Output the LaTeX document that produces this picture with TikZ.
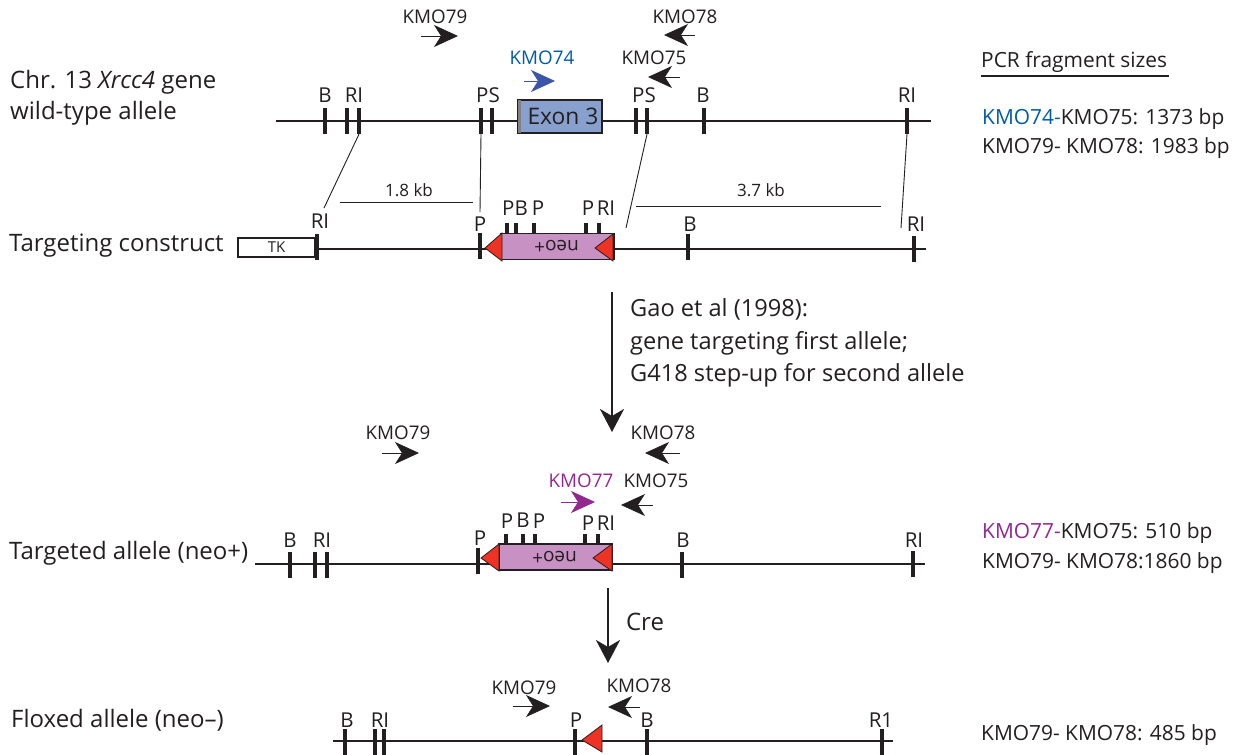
\documentclass[tikz,border=0pt]{standalone}
\usepackage{fontspec}
\setmainfont{Open Sans}
\usetikzlibrary{arrows.meta}
\definecolor{ink}{RGB}{35,31,32}
\definecolor{exonblue}{RGB}{135,160,205}
\definecolor{neopink}{RGB}{200,145,195}
\definecolor{loxred}{RGB}{238,50,36}
\definecolor{textblue}{RGB}{0,90,170}
\definecolor{arrowblue}{RGB}{60,85,170}
\definecolor{purp}{RGB}{146,39,143}
\tikzset{
  big/.style={font=\fontsize{24}{28}\selectfont, text=ink, inner sep=0pt},
  gao/.style={font=\fontsize{23.6}{28}\selectfont, text=ink, inner sep=0pt},
  mid/.style={font=\fontsize{20.9}{25}\selectfont, text=ink, inner sep=0pt},
  site/.style={font=\fontsize{20.5}{22}\selectfont, text=ink, inner sep=0pt},
  dist/.style={font=\fontsize{17}{18}\selectfont, text=ink, inner sep=0pt},
  primer/.style={font=\fontsize{18.8}{20}\selectfont, text=ink, inner sep=0pt},
  tick/.style={draw=none, fill=ink, inner sep=0pt, minimum width=3.4pt, minimum height=26pt},
  smalltick/.style={draw=none, fill=ink, inner sep=0pt, minimum width=3.4pt, minimum height=10pt},
  backbone/.style={draw=ink, line width=1.9pt},
  guide/.style={draw=ink, line width=0.9pt},
  primerarrow/.style={draw=ink, line width=0.8pt, -{Stealth[length=24pt, width=22pt, inset=7pt]}},
  bigarrow/.style={draw=ink, line width=2.5pt, -{Stealth[length=23pt, width=24pt, inset=7pt]}},
  lox/.style={fill=loxred, draw=ink, line width=0.8pt},
  neobox/.style={draw=ink, line width=1.6pt, fill=neopink, inner sep=0pt, minimum width=113pt, minimum height=26pt,
    font=\fontsize{19}{22}\selectfont, text=ink},
}
\begin{document}
\begin{tikzpicture}[x=1pt, y=-1pt]
\useasboundingbox (0,0) rectangle (1235,755);

% wild-type allele
\coordinate (wta) at (276,121);
\coordinate (wtb) at (931,121);
\draw[backbone] (wta) -- (wtb);
\foreach \n/\x in {wt1/325, wt2/347, wt3/359, wt4/481, wt5/492, wt6/636, wt7/647, wt8/704, wt9/907}
  \node[tick] (\n) at (\x,121) {};
\node[draw=ink, line width=1.6pt, fill=exonblue, inner sep=0pt, minimum width=84pt, minimum height=33pt,
  font=\fontsize{22.8}{26}\selectfont, text=ink] (exon) at (560,116.5) {\hspace*{6pt}Exon 3};
\fill[gray] ([xshift=1pt,yshift=-1pt]exon.north west) rectangle ([xshift=4pt,yshift=1pt]exon.south west);
\node[site] (lb1) at (325,95) {B};
\node[site] (lb2) at (354,95) {RI};
\node[site] (lb3) at (488,95) {PS};
\node[site] (lb4) at (644,95) {PS};
\node[site] (lb5) at (703,95) {B};
\node[site] (lb6) at (907,95) {RI};

% targeting construct
\node[draw=ink, line width=1.2pt, fill=white, inner sep=0pt, minimum width=77pt, minimum height=19pt,
  font=\fontsize{15}{17}\selectfont, text=ink] (tk) at (276.5,247.5) {TK};
\coordinate (tca) at (317,249);
\coordinate (tcb) at (926,249);
\draw[backbone] (tca) -- (tcb);
\foreach \n/\x/\y in {tc1/317/247, tc2/480/246, tc3/688/247, tc4/914/249}
  \node[tick] (\n) at (\x,\y) {};
\node[neobox] (neoa) at (557.5,246.5) {\hspace*{-2pt}\rotatebox{180}{neo+}};
\foreach \n/\x in {tc5/507, tc6/516, tc7/534, tc8/586, tc9/599}
  \node[smalltick] (\n) at (\x,228) {};
\path[lox] (502,233) -- (485,248) -- (502,261) -- cycle;
\path[lox] (613,234) -- (595,248) -- (613,261) -- cycle;
\node[site] (lc1) at (320,221) {RI};
\node[site] (lc2) at (480,224) {P};
\node[site] (lc3) at (515,208) {PB};
\node[site] (lc4) at (538,208) {P};
\node[site] (lc5) at (588,208) {P};
\node[site] (lc6) at (606,208) {RI};
\node[site] (lc7) at (690,224) {B};
\node[site] (lc8) at (916,224) {RI};

% homology lines
\coordinate (ha) at (324,208);
\coordinate (hb) at (480,212);
\coordinate (hc) at (626,228);
\coordinate (hd) at (901,228);
\draw[guide] (wt3.south) -- (ha);
\draw[guide] (wt4.south) -- (hb);
\draw[guide] (wt7.south) -- (hc);
\draw[guide] (wt9.south) -- (hd);
\coordinate (da) at (340,202);
\coordinate (db) at (473,202);
\coordinate (dc) at (636,206);
\coordinate (dd) at (881,206);
\draw[guide] (da) -- (db);
\draw[guide] (dc) -- (dd);
\node[dist] (d18) at (409,190) {1.8 kb};
\node[dist] (d37) at (761,190) {3.7 kb};

% targeting step
\coordinate (sa) at (612,292);
\coordinate (sb) at (612,432);
\draw[bigarrow] (sa) -- (sb);
\node[gao, anchor=west] (gao1) at (630,309) {Gao et al (1998):};
\node[gao, anchor=west] (gao2) at (630,343) {gene targeting first allele;};
\node[gao, anchor=west] (gao3) at (630,375) {G418 step-up for second allele};

% targeted allele
\coordinate (taa) at (255,564);
\coordinate (tab) at (925,564);
\draw[backbone] (taa) -- (tab);
\foreach \n/\x/\y in {ta1/290/565, ta2/315/565, ta3/327/565, ta4/478/561, ta5/682/565, ta6/913/564}
  \node[tick] (\n) at (\x,\y) {};
\node[neobox] (neob) at (555.5,557) {\hspace*{-2pt}\rotatebox{180}{neo+}};
\foreach \n/\x in {ta7/506, ta8/523, ta9/535, ta10/585, ta11/598}
  \node[smalltick] (\n) at (\x,539) {};
\path[lox] (499,544) -- (481,558) -- (499,571) -- cycle;
\path[lox] (612,544) -- (593,558) -- (612,571) -- cycle;
\node[site] (ld1) at (290,540) {B};
\node[site] (ld2) at (322,540) {RI};
\node[site] (ld3) at (480,538) {P};
\node[site] (ld4) at (507,521) {P};
\node[site] (ld5) at (523,520) {B};
\node[site] (ld6) at (539,521) {P};
\node[site] (ld7) at (588,523) {P};
\node[site] (ld8) at (606,523) {RI};
\node[site] (ld9) at (683,540) {B};
\node[site] (ld10) at (914,540) {RI};

% cre step
\coordinate (ca) at (608,588);
\coordinate (cb) at (608,663);
\draw[bigarrow] (ca) -- (cb);
\node[big] (cre) at (645,622) {Cre};

% floxed allele
\coordinate (fa) at (333,741);
\coordinate (fb) at (893,741);
\draw[backbone] (fa) -- (fb);
\foreach \n/\x in {fl1/345, fl2/375, fl3/384, fl4/575, fl5/647, fl6/882}
  \node[tick] (\n) at (\x,742) {};
\path[lox] (602,725) -- (582,740) -- (602,752) -- cycle;
\node[site] (le1) at (347,720) {B};
\node[site] (le2) at (380,720) {RI};
\node[site] (le3) at (576,720) {P};
\node[site] (le4) at (647,720) {B};
\node[site] (le5) at (881,720) {R1};

% primers
\node[primer] (p79a) at (435,17) {KMO79};
\coordinate (p79as) at (421,36);
\coordinate (p79ae) at (458,36);
\draw[primerarrow] (p79as) -- (p79ae);
\node[primer] (p78a) at (685,17) {KMO78};
\coordinate (p78as) at (695,35);
\coordinate (p78ae) at (664,35);
\draw[primerarrow] (p78as) -- (p78ae);
\node[primer, text=textblue] (p74) at (542,58) {KMO74};
\coordinate (p74s) at (524,81);
\coordinate (p74e) at (555,81);
\draw[primerarrow, draw=arrowblue, fill=arrowblue] (p74s) -- (p74e);
\node[primer] (p75a) at (654,58) {KMO75};
\coordinate (p75as) at (680,77);
\coordinate (p75ae) at (648,77);
\draw[primerarrow] (p75as) -- (p75ae);

\node[primer] (p79b) at (398,433) {KMO79};
\coordinate (p79bs) at (382,453);
\coordinate (p79be) at (419,453);
\draw[primerarrow] (p79bs) -- (p79be);
\node[primer] (p78b) at (663,433) {KMO78};
\coordinate (p78bs) at (680,453);
\coordinate (p78be) at (645,453);
\draw[primerarrow] (p78bs) -- (p78be);
\node[primer, text=purp] (p77) at (581,481) {KMO77};
\coordinate (p77s) at (561,502);
\coordinate (p77e) at (595,502);
\draw[primerarrow, draw=purp, fill=purp] (p77s) -- (p77e);
\node[primer] (p75b) at (656,481) {KMO75};
\coordinate (p75bs) at (653,505);
\coordinate (p75be) at (621,505);
\draw[primerarrow] (p75bs) -- (p75be);

\node[primer] (p79c) at (524,688) {KMO79};
\coordinate (p79cs) at (513,706);
\coordinate (p79ce) at (550,706);
\draw[primerarrow] (p79cs) -- (p79ce);
\node[primer] (p78c) at (639,686) {KMO78};
\coordinate (p78cs) at (640,707);
\coordinate (p78ce) at (608,707);
\draw[primerarrow] (p78cs) -- (p78ce);

% left labels
\node[big, anchor=west] (chr) at (10,82) {Chr. 13 \textit{Xrcc4} gene};
\node[big, anchor=west] (wt) at (10,113) {wild-type allele};
\node[big, anchor=west] (tc) at (9,246) {Targeting construct};
\node[big, anchor=west] (ta) at (9,553) {Targeted allele (neo+)};
\node[big, anchor=west] (fl) at (11,720) {Floxed allele (neo--)};

% right labels
\node[mid, anchor=west] (pcr) at (981,62) {PCR fragment sizes};
\coordinate (pcra) at (981,76);
\coordinate (pcrb) at (1169,76);
\draw[draw=ink, line width=1.5pt] (pcra) -- (pcrb);
\node[mid, anchor=west] (s1) at (982,119) {\textcolor{textblue}{KMO74-}KMO75: 1373 bp};
\node[mid, anchor=west] (s2) at (982,148) {KMO79- KMO78: 1983 bp};
\node[mid, anchor=west] (s3) at (982,533) {\textcolor{purp}{KMO77-}KMO75: 510 bp};
\node[mid, anchor=west] (s4) at (982,563) {KMO79- KMO78:1860 bp};
\node[mid, anchor=west] (s5) at (981,735) {KMO79- KMO78: 485 bp};
\end{tikzpicture}
\end{document}
